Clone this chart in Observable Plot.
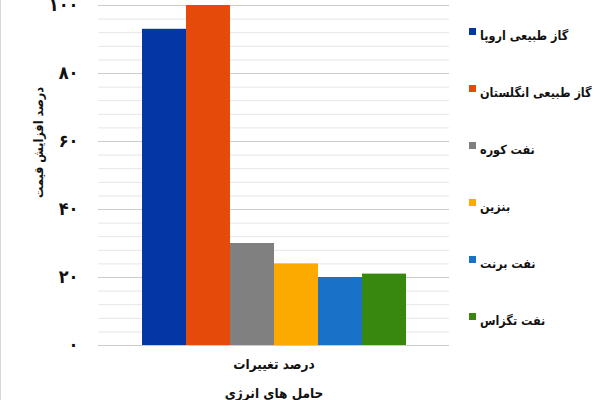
<!DOCTYPE html>
<html>
<head>
<meta charset="utf-8">
<script src="https://cdn.jsdelivr.net/npm/d3@7"></script>
<script src="https://cdn.jsdelivr.net/npm/@observablehq/plot@0.6"></script>
<style>
  html, body { margin: 0; padding: 0; background: #fff; }
  #wrap { display: flex; width: 600px; height: 400px; overflow: hidden; position: relative; border-left: 1px solid #d8d8d8; box-sizing: border-box; }
  #wrap svg { flex: none; }
  #legend { width: 151px; flex: none; font-family: "DejaVu Sans Condensed", "DejaVu Sans", sans-serif; font-weight: bold; font-size: 12.5px; color: #111; padding-top: 26px; box-sizing: border-box; }
  .row { height: 57px; display: flex; align-items: flex-start; white-space: nowrap; }
  .sw { width: 7px; height: 7px; margin-left: 20px; margin-right: 4px; margin-top: 2px; flex: none; }
  .lbl { line-height: 16px; margin-top: 2px; white-space: nowrap; }
</style>
</head>
<body>
<div id="wrap"></div>
<script>
const categories = ["گاز طبیعی اروپا", "گاز طبیعی انگلستان", "نفت کوره", "بنزین", "نفت برنت", "نفت تگزاس"];
const values = [93, 100, 30, 24, 20, 21];
const colors = ["#0536a6", "#e64a0b", "#808080", "#fdaa00", "#1a72c8", "#38870f"];
const yTicks = [0, 20, 40, 60, 80, 100];
const yTickLabels = ["۰", "۲۰", "۴۰", "۶۰", "۸۰", "۱۰۰"];
const yMinorTicks = [4, 8, 12, 16, 24, 28, 32, 36, 44, 48, 52, 56, 64, 68, 72, 76, 84, 88, 92, 96];
const yLabel = "درصد افزایش قیمت";
const xLabel = "درصد تغییرات";
const xLabel2 = "حامل های انرژی";

const data = categories.map((c, i) => ({category: c, value: values[i]}));

const chart = Plot.plot({
  width: 448,
  height: 400,
  marginLeft: 97,
  marginRight: 0,
  marginTop: 5,
  marginBottom: 55,
  style: {fontFamily: "DejaVu Sans Condensed, DejaVu Sans, sans-serif", background: "#fff", overflow: "visible"},
  x: {domain: categories, range: [141, 405], padding: 0, axis: null},
  y: {domain: [0, 100], axis: null},
  color: {domain: categories, range: colors},
  marks: [
    Plot.ruleY(yMinorTicks, {stroke: "#e6e6e6", strokeWidth: 1}),
    Plot.ruleY(yTicks, {stroke: "#cccccc", strokeWidth: 1}),
    Plot.barY(data, {x: "category", y: "value", fill: "category", inset: 0}),
    Plot.axisY({ticks: yTicks, tickFormat: (d) => yTickLabels[yTicks.indexOf(d)], tickSize: 0, tickPadding: 20, fontSize: 18, fontWeight: "bold", fill: "#111", label: null}),
    Plot.text([yLabel], {frameAnchor: "left", textAnchor: "middle", lineAnchor: "middle", dx: -60, dy: -33, rotate: -90, fontSize: 12.5, fontWeight: "bold", fill: "#111"}),
    Plot.text([xLabel], {frameAnchor: "bottom", dy: 23, fontSize: 13.5, fontWeight: "bold", fill: "#111"}),
    Plot.text([xLabel2], {frameAnchor: "bottom", dy: 52, fontSize: 13.5, fontWeight: "bold", fill: "#111"})
  ]
});

const wrap = document.getElementById("wrap");
wrap.appendChild(chart);
const legend = document.createElement("div");
legend.id = "legend";
categories.forEach((c, i) => {
  const row = document.createElement("div");
  row.className = "row";
  const sw = document.createElement("div");
  sw.className = "sw";
  sw.style.background = colors[i];
  const lbl = document.createElement("div");
  lbl.className = "lbl";
  lbl.textContent = c;
  row.appendChild(sw);
  row.appendChild(lbl);
  legend.appendChild(row);
});
wrap.appendChild(legend);
</script>
</body>
</html>
